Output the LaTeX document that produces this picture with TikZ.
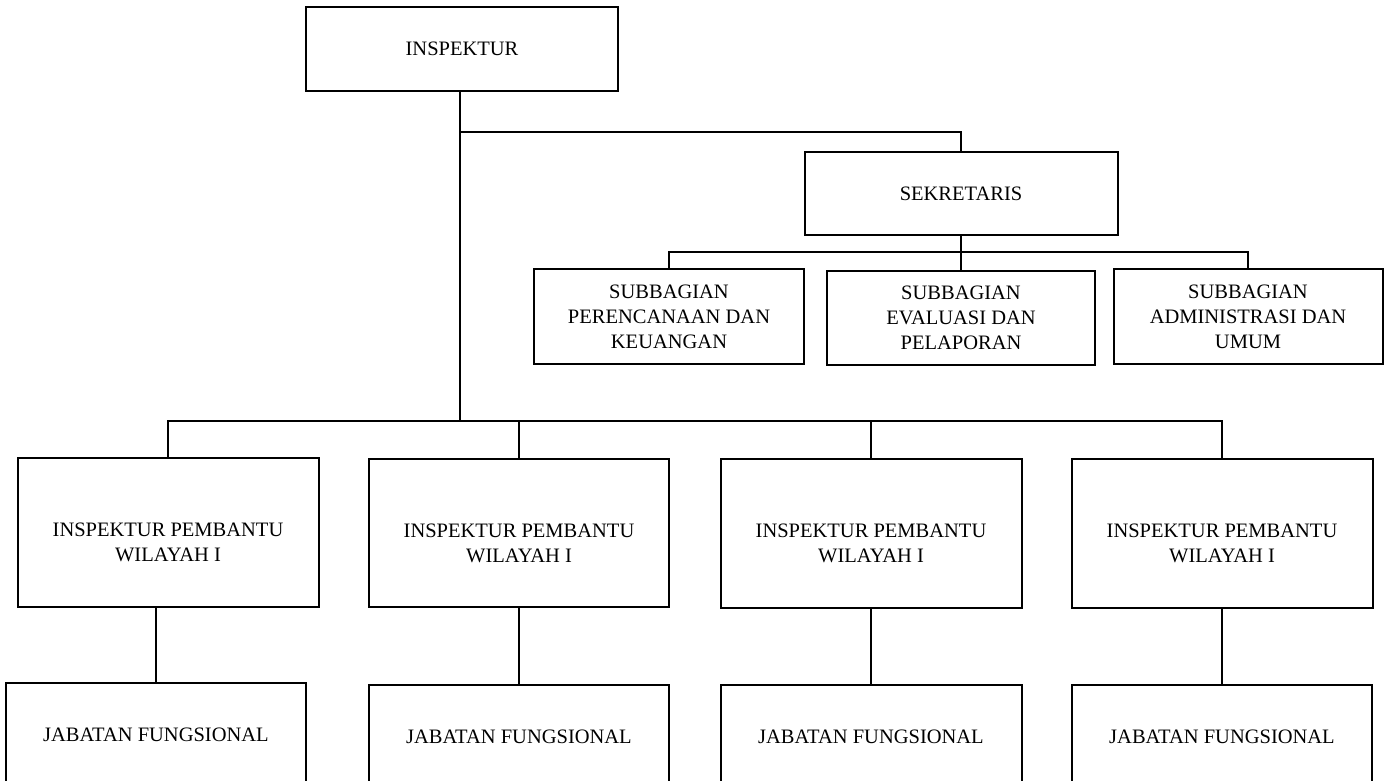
\documentclass[tikz,border=0pt]{standalone}
\usepackage{fontspec}
\setmainfont{Liberation Serif}
\usepackage{tikz}

\begin{document}
\begin{tikzpicture}[x=1pt, y=-1pt, line width=2pt,
  box/.style={draw, rectangle, inner sep=0pt, align=center, font=\fontsize{20.5}{25}\selectfont},
  txt/.style={inner sep=0pt, align=center, font=\fontsize{20.5}{25}\selectfont}]
\useasboundingbox (0,0) rectangle (1391,781);
\clip (0,0) rectangle (1391,781);
% Boxes
\node[box, minimum width=312pt, minimum height=84pt] (insp) at (462,49) {INSPEKTUR};
\node[box, minimum width=313pt, minimum height=83pt] (sek) at (961,193.5) {SEKRETARIS};
\node[box, minimum width=270pt, minimum height=95pt] (sub1) at (669,316.5) {SUBBAGIAN\\PERENCANAAN DAN\\KEUANGAN};
\node[box, minimum width=268pt, minimum height=94pt] (sub2) at (961,318) {SUBBAGIAN\\EVALUASI DAN\\PELAPORAN};
\node[box, minimum width=269pt, minimum height=95pt] (sub3) at (1248,316.5) {SUBBAGIAN\\ADMINISTRASI DAN\\UMUM};
\node[box, minimum width=301pt, minimum height=149pt] (ip1) at (168,532.5) {};
\node[box, minimum width=300pt, minimum height=148pt] (ip2) at (519,533) {};
\node[box, minimum width=301pt, minimum height=149pt] (ip3) at (871,533) {};
\node[box, minimum width=301pt, minimum height=149pt] (ip4) at (1222,533) {};
\node[txt] (ip1t) at ([yshift=-10pt]ip1.center) {INSPEKTUR PEMBANTU\\WILAYAH I};
\node[txt] (ip2t) at ([yshift=-10pt]ip2.center) {INSPEKTUR PEMBANTU\\WILAYAH I};
\node[txt] (ip3t) at ([yshift=-10pt]ip3.center) {INSPEKTUR PEMBANTU\\WILAYAH I};
\node[txt] (ip4t) at ([yshift=-10pt]ip4.center) {INSPEKTUR PEMBANTU\\WILAYAH I};
\node[box, minimum width=300pt, minimum height=104pt] (jf1) at (156,735) {JABATAN FUNGSIONAL};
\node[box, minimum width=300pt, minimum height=104pt] (jf2) at (519,737) {JABATAN FUNGSIONAL};
\node[box, minimum width=301pt, minimum height=104pt] (jf3) at (871,737) {JABATAN FUNGSIONAL};
\node[box, minimum width=300pt, minimum height=104pt] (jf4) at (1222,737) {JABATAN FUNGSIONAL};
% Lines
\coordinate (sekbus) at (460,132);
\coordinate (ipbus) at (460,421);
\coordinate (subbus) at (961,252);
\draw (insp.south -| sekbus) -- (ipbus);
\draw (sekbus) -| (sek.north);
\draw (sek.south) -- (subbus);
\draw (sub1.north) |- (sub3.north |- subbus) -- (sub3.north);
\draw (sub2.north) -- (subbus);
\draw (ip1.north) |- (ip4.north |- ipbus) -- (ip4.north);
\draw (ip2.north) -- (ip2.north |- ipbus);
\draw (ip3.north) -- (ip3.north |- ipbus);
\draw (jf1.north) -- (jf1.north |- ip1.south);
\draw (ip2.south) -- (jf2.north);
\draw (ip3.south) -- (jf3.north);
\draw (ip4.south) -- (jf4.north);
\end{tikzpicture}
\end{document}
